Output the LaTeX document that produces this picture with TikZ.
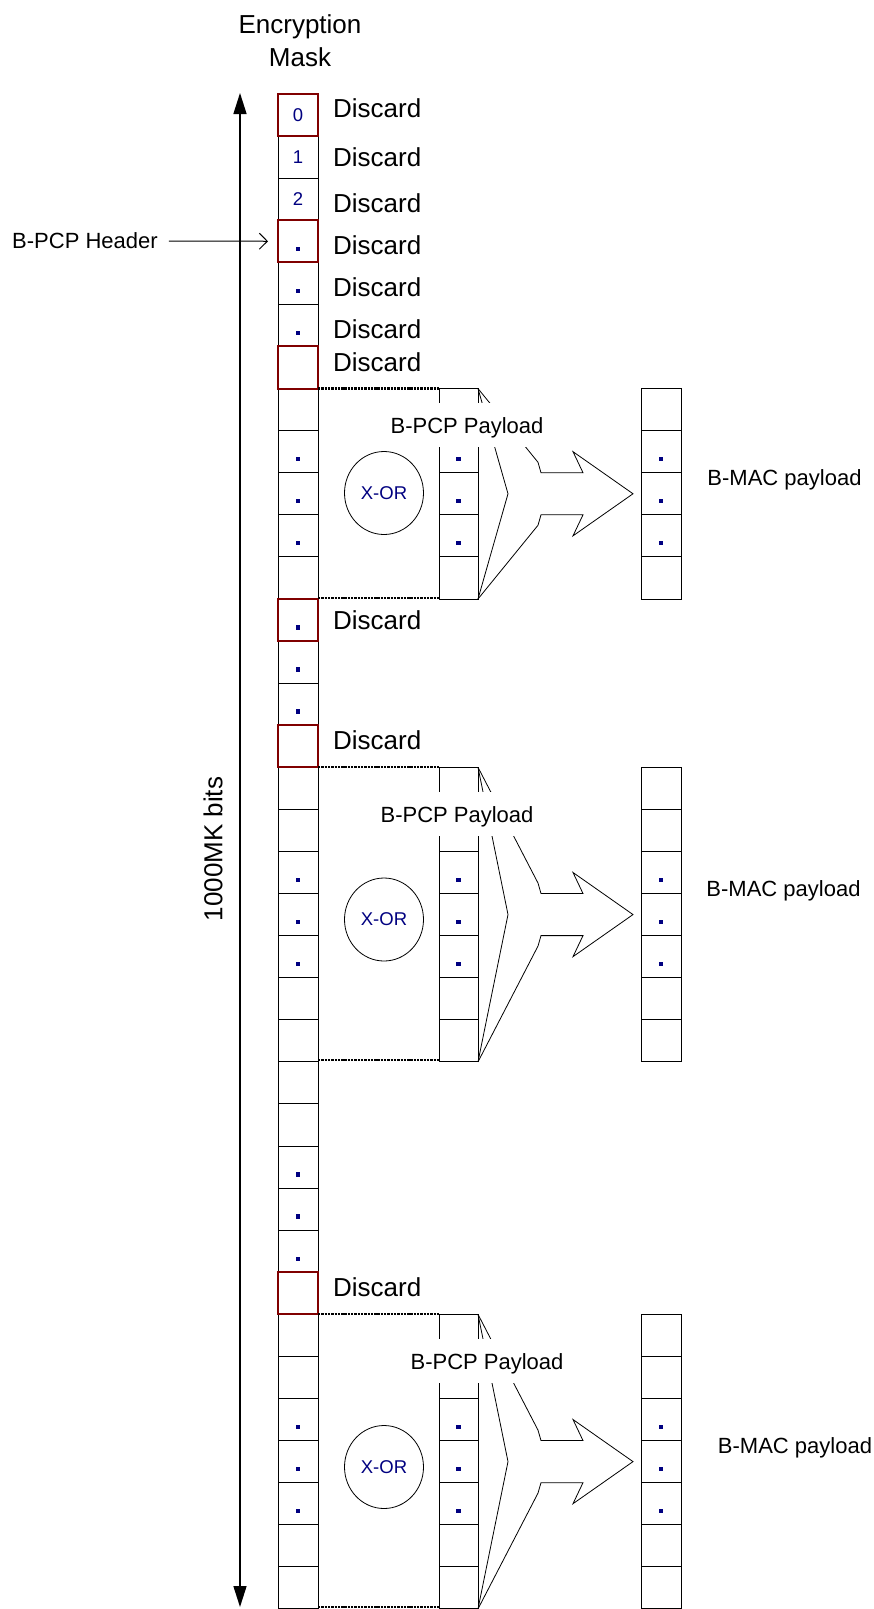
\documentclass[tikz,border=0pt]{standalone}
\usepackage{fontspec}
\setmainfont{Liberation Sans}
\usetikzlibrary{arrows.meta,shapes.geometric}
\definecolor{maskred}{RGB}{128,0,0}
\definecolor{navyblue}{RGB}{0,0,128}
\begin{document}
\begin{tikzpicture}[x=1pt,y=-1pt,
  cell/.style={draw=black, line width=0.9pt, rectangle, inner sep=0pt, outer sep=0pt, minimum height=42.08pt},
  maincell/.style={cell, minimum width=40pt},
  paycell/.style={cell, minimum width=39pt},
  maccell/.style={cell, minimum width=40pt},
  redbox/.style={draw=maskred, line width=2pt},
  dotm/.style={rectangle, fill=navyblue, inner sep=0pt, minimum size=4.2pt},
  digit/.style={font=\fontsize{18.5}{22}\selectfont, text=navyblue, inner sep=0pt, text height=13.3pt, text depth=0pt},
  big/.style={font=\fontsize{26}{33}\selectfont, inner sep=0pt, text height=18.6pt, text depth=0pt},
  disc/.style={big, anchor=west},
  lbl/.style={font=\fontsize{22}{26}\selectfont, inner sep=0pt, text height=15.75pt, text depth=0pt},
  plbl/.style={font=\fontsize{22}{26}\selectfont, fill=white, inner xsep=5pt, inner ysep=0pt, text height=30pt, text depth=14pt},
  xorc/.style={ellipse, draw=black, line width=0.8pt, minimum width=79pt, minimum height=83pt, inner sep=0pt, font=\fontsize{18.5}{22}\selectfont, text=navyblue},
  fan/.style={draw=black, line width=0.8pt, line join=miter},
  dotline/.style={draw=black, line width=2.2pt, dash pattern=on 2.4pt off 0.9pt},
  bigarrow/.style={line width=1.5pt, {Triangle[length=21pt,width=13pt]}-{Triangle[length=21pt,width=13pt]}},
  hdrarrow/.style={line width=1pt, -{Straight Barb[length=8pt,width=16pt]}}
]
\useasboundingbox (0,0) rectangle (874,1609);

% main column
\foreach \i in {0,...,35} {
  \pgfmathsetmacro\yc{94+42.08*\i+21.04}
  \node[maincell] (m\i) at (298,\yc) {};
}
% payload and MAC columns
\foreach \s/\first/\n in {1/7/4, 2/16/6, 3/29/6} {
  \foreach \k in {0,...,\n} {
    \pgfmathsetmacro\yc{94+42.08*(\first+\k)+21.04}
    \node[paycell] (p\s-\k) at (458.5,\yc) {};
    \node[maccell] (b\s-\k) at (661,\yc) {};
  }
}

% red mask cells
\foreach \i in {0,3,6,12,15,28}
  \draw[redbox] (m\i.north west) rectangle (m\i.south east);

% digits
\node[digit] (n0) at (m0.center) {0};
\node[digit] (n1) at (m1.center) {1};
\node[digit] (n2) at (m2.center) {2};

% dots in main column
\foreach \i in {3,4,5,8,9,10,12,13,14,18,19,20,25,26,27,31,32,33} {
  \pgfmathsetmacro\yd{94+42.08*\i+21.04+7.4}
  \node[dotm] (dm\i) at (298,\yd) {};
}
% dots in payload / MAC columns
\foreach \s/\first/\a/\b/\c in {1/7/1/2/3, 2/16/2/3/4, 3/29/2/3/4} {
  \foreach \k in {\a,\b,\c} {
    \pgfmathsetmacro\yd{94+42.08*(\first+\k)+21.04+7.4}
    \node[dotm] (dp\s-\k) at (458.5,\yd) {};
    \node[dotm] (db\s-\k) at (661,\yd) {};
  }
}

% Discard labels
\foreach \r/\yy in {0/108,1/157,2/203,3/245,4/287,5/329,6/362,12/620,15/740,28/1287}
  \node[disc] (d\r) at (333,\yy) {Discard};

% fans / arrows
\foreach \s/\bot/\yc in {1/4/493.76, 2/6/914.56, 3/6/1461.6} {
  \coordinate (apex\s) at (508,\yc);
  \coordinate (tip\s) at (633,\yc);
  \draw[fan] (p\s-0.north east) -- (apex\s) -- (p\s-\bot.south east);
  \draw[fan] (p\s-0.north east) -- (538,\yc-31.5) -- (541,\yc-21.04) -- (583,\yc-21.04)
     -- (573,\yc-42.08) -- (tip\s) -- (573,\yc+42.08) -- (583,\yc+21.04)
     -- (541,\yc+21.04) -- (538,\yc+31.5) -- (p\s-\bot.south east);
}

% dotted connectors
\draw[dotline] (m7.north east) -- (p1-0.north west);
\draw[dotline] ([yshift=1pt]m11.south east) -- ([yshift=1pt]p1-4.south west);
\draw[dotline] (m16.north east) -- (p2-0.north west);
\draw[dotline] ([yshift=2pt]m22.south east) -- ([yshift=2pt]p2-6.south west);
\draw[dotline] (m29.north east) -- (p3-0.north west);
\draw[dotline] ([yshift=2pt]m35.south east) -- ([yshift=2pt]p3-6.south west);

% payload labels
\node[plbl] (pl1) at (467,425) {B-PCP Payload};
\node[plbl] (pl2) at (457,814) {B-PCP Payload};
\node[plbl] (pl3) at (487,1361) {B-PCP Payload};

% MAC labels
\node[lbl] (ml1) at (784.5,478) {B-MAC payload};
\node[lbl] (ml2) at (783.5,889) {B-MAC payload};
\node[lbl] (ml3) at (795,1446) {B-MAC payload};

% X-OR circles
\node[xorc] (x1) at (384,493) {X-OR};
\node[xorc] (x2) at (384,919.5) {X-OR};
\node[xorc] (x3) at (384,1467) {X-OR};

% header text
\node[font=\fontsize{26}{33}\selectfont, align=center, inner sep=0pt] (em) at (300,40.5) {Encryption\\Mask};

% vertical arrow
\coordinate (atop) at (240,93);
\coordinate (abot) at (240,1607);
\draw[bigarrow] (atop) -- (abot);
\node[big, rotate=90] (bits) at (213,849) {1000MK bits};

% B-PCP Header
\node[lbl] (hdr) at (85,241) {B-PCP Header};
\draw[hdrarrow, shorten <=11pt, shorten >=10pt] (hdr.east) -- (m3.west);
\end{tikzpicture}
\end{document}
